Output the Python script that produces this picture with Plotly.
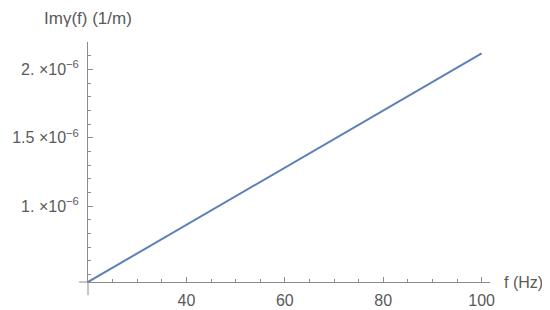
import plotly.graph_objects as go

# Data (Im gamma vs frequency, straight line)
freq_hz = [20, 40, 60, 80, 100]
im_gamma = [0.444e-6, 0.863e-6, 1.282e-6, 1.700e-6, 2.117e-6]

x_tick_vals = [40, 60, 80, 100]
x_tick_text = ["40", "60", "80", "100"]
y_tick_vals = [1.0e-6, 1.5e-6, 2.0e-6]
y_tick_text = ["1. ×10<sup>−6</sup>", "1.5 ×10<sup>−6</sup>", "2. ×10<sup>−6</sup>"]

AX = "#8c8c8c"
TXT = "#5a5a5a"
FONT = "Liberation Sans, Arial, sans-serif"

fig = go.Figure()
fig.add_trace(go.Scatter(
    x=freq_hz, y=im_gamma, mode="lines",
    line=dict(color="#5E81B5", width=2),
    showlegend=False, hoverinfo="skip",
))

# the page body adds an 8px margin; margins compensate for that offset
fig.update_layout(
    width=534, height=302,
    margin=dict(l=80, r=52, t=34, b=28, autoexpand=False),
    paper_bgcolor="white", plot_bgcolor="white",
    font=dict(family=FONT, size=16, color=TXT),
    xaxis=dict(
        range=[20, 101.7], showgrid=False, zeroline=False, automargin=False,
        showline=True, linecolor=AX, linewidth=1,
        tickmode="array", tickvals=x_tick_vals, ticktext=x_tick_text,
        ticks="inside", ticklen=5, tickcolor=AX, tickwidth=1,
        ticklabelstandoff=4,
        minor=dict(ticks="inside", ticklen=3, tickcolor=AX, tick0=20, dtick=5, showgrid=False),
        tickfont=dict(size=16, color=TXT),
    ),
    yaxis=dict(
        range=[0.444e-6, 2.2e-6], showgrid=False, zeroline=False, automargin=False,
        showline=True, linecolor=AX, linewidth=1,
        tickmode="array", tickvals=y_tick_vals, ticktext=y_tick_text,
        ticks="inside", ticklen=5, tickcolor=AX, tickwidth=1,
        ticklabelstandoff=5,
        minor=dict(ticks="inside", ticklen=3, tickcolor=AX, tick0=0, dtick=1e-7, showgrid=False),
        tickfont=dict(size=16, color=TXT),
    ),
    shapes=[
        dict(type="line", xref="x domain", yref="y domain", x0=-0.022, x1=0, y0=0, y1=0,
             line=dict(color=AX, width=1)),
        dict(type="line", xref="x domain", yref="y domain", x0=0, x1=0, y0=-0.055, y1=0,
             line=dict(color=AX, width=1)),
    ],
    annotations=[
        dict(text="Imγ(f) (1/m)", xref="x domain", yref="y domain", x=0, y=1,
             xanchor="center", yanchor="middle", yshift=24, showarrow=False,
             font=dict(size=17, color=TXT, family=FONT)),
        dict(text="f (Hz)", xref="x domain", yref="y domain", x=1, y=0,
             xanchor="left", yanchor="middle", xshift=12, showarrow=False,
             font=dict(size=16, color=TXT, family=FONT)),
    ],
)

fig.write_html("out.html")
